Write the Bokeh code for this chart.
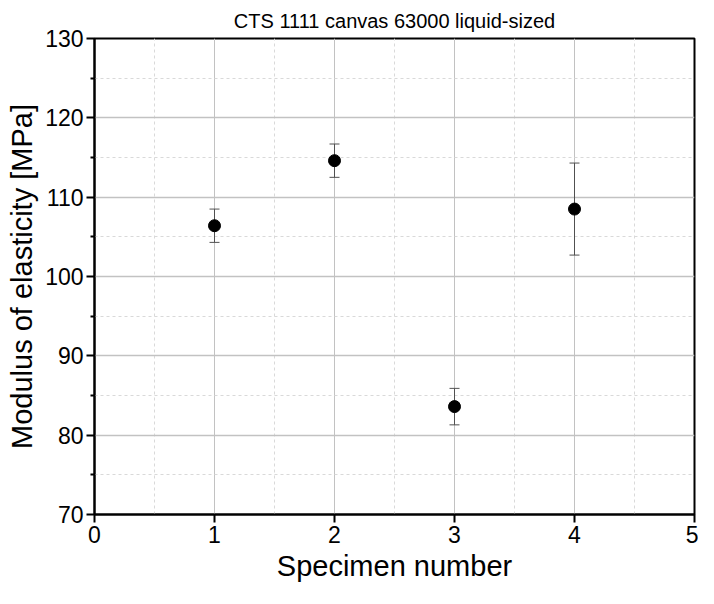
from bokeh.plotting import figure
from bokeh.models import Range1d, FixedTicker, ColumnDataSource, Whisker, TeeHead
from bokeh.embed import file_html
from bokeh.resources import INLINE

specimen = [1, 2, 3, 4]
modulus = [106.4, 114.6, 83.6, 108.5]
err = [2.1, 2.1, 2.3, 5.8]

x_ticks = [0, 1, 2, 3, 4, 5]
x_minor = [0.5, 1.5, 2.5, 3.5, 4.5]
y_ticks = [70, 80, 90, 100, 110, 120, 130]
y_minor = [75, 85, 95, 105, 115, 125]

FONT = "Liberation Sans"

src = ColumnDataSource(dict(
    x=specimen, y=modulus,
    lo=[m - e for m, e in zip(modulus, err)],
    hi=[m + e for m, e in zip(modulus, err)],
))

p = figure(width=698, height=588, output_backend="svg", toolbar_location=None,
           x_range=Range1d(0, 5), y_range=Range1d(70, 130),
           min_border_left=94, min_border_right=4, min_border_top=34, min_border_bottom=74,
           title="CTS 1111 canvas 63000 liquid-sized")
p.title.align = "center"
p.title.text_font = FONT
p.title.text_font_size = "20px"
p.title.text_font_style = "normal"
p.title.text_color = "#000000"
p.title.standoff = 14

p.outline_line_color = "black"
p.outline_line_width = 2
p.outline_line_alpha = 1

p.xaxis.ticker = FixedTicker(ticks=x_ticks, minor_ticks=x_minor)
p.yaxis.ticker = FixedTicker(ticks=y_ticks, minor_ticks=y_minor)

for ax in (p.xaxis[0], p.yaxis[0]):
    ax.axis_line_width = 2
    ax.axis_line_color = "black"
    ax.major_tick_line_width = 2
    ax.major_tick_line_color = "black"
    ax.minor_tick_line_width = 2
    ax.minor_tick_line_color = "black"
    ax.major_tick_out = 8
    ax.major_tick_in = 0
    ax.minor_tick_in = 0
    ax.major_label_text_font = FONT
    ax.major_label_text_font_size = "23px"
    ax.major_label_text_color = "black"
    ax.axis_label_text_font = FONT
    ax.axis_label_text_font_size = "29px"
    ax.axis_label_text_font_style = "normal"
    ax.axis_label_text_color = "black"
    ax.major_label_standoff = 3
    ax.axis_label_standoff = 4

p.xaxis.minor_tick_out = 0
p.yaxis.minor_tick_out = 4

p.xaxis.axis_label = "Specimen number"
p.yaxis.axis_label = "Modulus of elasticity [MPa]"

p.xgrid.grid_line_color = "#c2c2c2"
p.xgrid.grid_line_width = 1
p.ygrid.grid_line_color = "#c2c2c2"
p.ygrid.grid_line_width = 1.5
for g in (p.xgrid[0], p.ygrid[0]):
    g.minor_grid_line_color = "#d9d9d9"
    g.minor_grid_line_dash = "3 3"
    g.minor_grid_line_width = 1

w = Whisker(source=src, base="x", upper="hi", lower="lo",
            line_color="#505050", line_width=1,
            upper_head=TeeHead(size=10, line_color="#505050", line_width=1),
            lower_head=TeeHead(size=10, line_color="#505050", line_width=1))
p.add_layout(w)

p.scatter("x", "y", source=src, size=12, color="black")

open("out.html", "w").write(file_html(p, INLINE))
